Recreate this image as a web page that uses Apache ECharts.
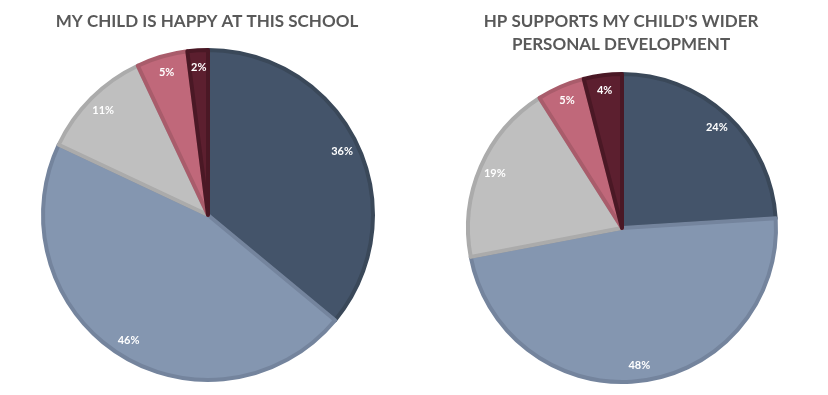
<!DOCTYPE html>
<html><head><meta charset="utf-8">
<script src="https://cdn.jsdelivr.net/npm/echarts@6/dist/echarts.min.js"></script>
<style>html,body{margin:0;padding:0;background:#fff}#c{width:828px;height:395px}</style>
</head><body><div id="c"></div>
<script>
const categories = ['Strongly agree', 'Agree', "Don't know", 'Disagree', 'Strongly disagree'];
const happyValues = [36, 46, 11, 5, 2];
const supportValues = [24, 48, 19, 5, 4];
const titleHappy = 'MY CHILD IS HAPPY AT THIS SCHOOL';
const titleSupport = "HP SUPPORTS MY CHILD'S WIDER\nPERSONAL DEVELOPMENT";
const colors = ['#44546A', '#8496B0', '#BFBFBF', '#C0687A', '#5C1F2F'];
const borderColors = ['#3A4859', '#74849D', '#ABABAB', '#A95C6B', '#4A1825'];

function sliceData(vals) {
  return vals.map((v, i) => ({
    name: categories[i], value: v,
    itemStyle: { color: colors[i], borderColor: borderColors[i], borderWidth: 4 }
  }));
}
function labelData(vals) {
  return vals.map((v, i) => ({ name: categories[i], value: v }));
}
function pies(vals, center, r) {
  return [
    {
      type: 'pie', center: center, radius: [0, r], startAngle: 90, clockwise: true,
      data: sliceData(vals), label: { show: false }, labelLine: { show: false },
      emphasis: { disabled: true }, animation: false
    },
    {
      type: 'pie', center: center, radius: [r * 0.76, r], startAngle: 90, clockwise: true,
      data: labelData(vals), silent: true, animation: false,
      itemStyle: { color: 'rgba(0,0,0,0)', borderWidth: 0 },
      label: { show: true, position: 'inside', formatter: '{c}%', color: '#fff',
        fontFamily: 'Lato', fontSize: 11, fontWeight: 'bold' },
      labelLine: { show: false }, emphasis: { disabled: true }
    }
  ];
}
const chart = echarts.init(document.getElementById('c'), null, { renderer: 'canvas' });
chart.setOption({
  backgroundColor: '#fff',
  graphic: [
    { type: 'text', x: 207, y: 22, style: { text: titleHappy, fill: '#595959',
      font: 'bold 17px Lato', textAlign: 'center', textVerticalAlign: 'middle' } },
    { type: 'text', x: 621, y: 33, style: { text: titleSupport, fill: '#595959',
      font: 'bold 17px Lato', lineHeight: 23, textAlign: 'center', textVerticalAlign: 'middle' } }
  ],
  series: [
    ...pies(happyValues, [208, 215], 165),
    ...pies(supportValues, [622, 228], 154)
  ]
});
</script></body></html>
